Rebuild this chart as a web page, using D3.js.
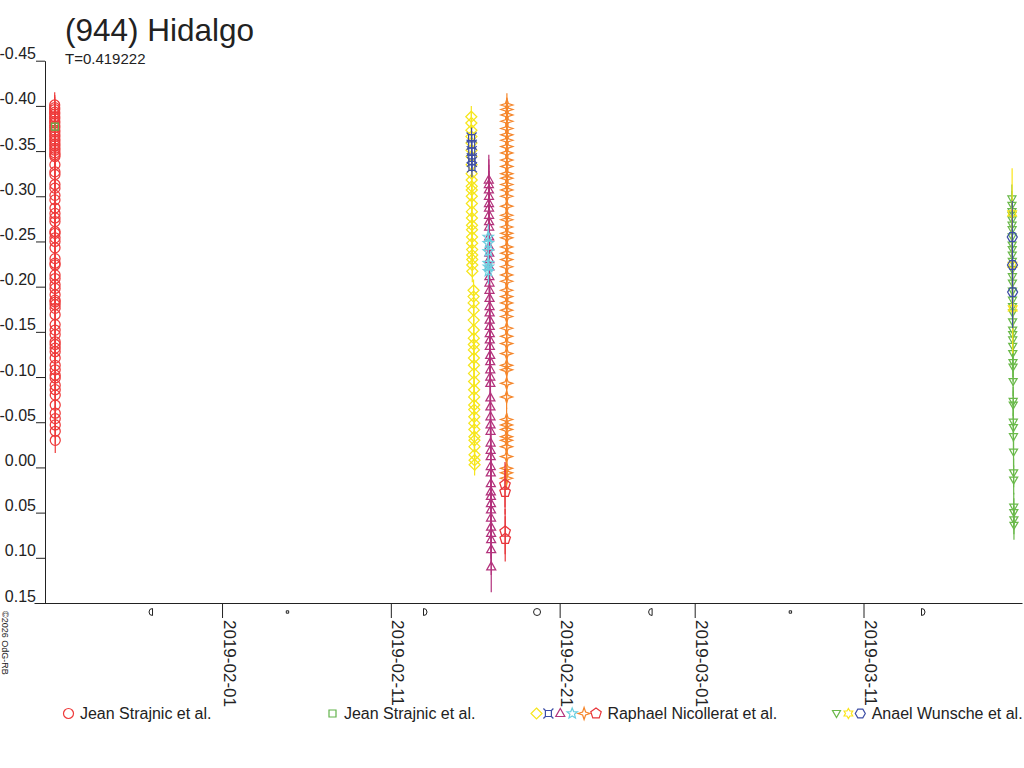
<!DOCTYPE html>
<html>
<head>
<meta charset="utf-8">
<script src="https://cdn.jsdelivr.net/npm/d3@7"></script>
<style>
body { margin: 0; background: #fff; }
text { font-family: "Liberation Sans", Arial, sans-serif; fill: #222; }
</style>
</head>
<body>
<div id="chart"></div>
<script>

const width = 1024, height = 768;

const title = "(944) Hidalgo";
const subtitle = "T=0.419222";
const credit = "©2026 OdG-RB";

const yTicks = [-0.45, -0.40, -0.35, -0.30, -0.25, -0.20, -0.15, -0.10, -0.05, 0.00, 0.05, 0.10, 0.15];
const xTicks = ["2019-02-01", "2019-02-11", "2019-02-21", "2019-03-01", "2019-03-11"];

// moon phases (UTC)
const moonPhases = [
    ["2019-01-27T21:10", "last"], ["2019-02-04T21:03", "new"], ["2019-02-12T22:26", "first"],
    ["2019-02-19T15:53", "full"], ["2019-02-26T11:27", "last"], ["2019-03-06T16:03", "new"],
    ["2019-03-14T10:27", "first"]
];

const observers = ["Jean Strajnic et al.", "Jean Strajnic et al.", "Raphael Nicollerat et al.", "Anael Wunsche et al."];

// observations: [hours UT, relative magnitude]
const strajnicA = [ // 2019-01-22
    [2.10,-0.401],[2.11,-0.398],[2.12,-0.396],[2.14,-0.393],[2.15,-0.391],[2.16,-0.388],[2.18,-0.386],[2.19,-0.383],
    [2.20,-0.381],[2.22,-0.378],[2.23,-0.376],[2.24,-0.373],[2.26,-0.371],[2.27,-0.368],[2.28,-0.366],[2.30,-0.363],
    [2.31,-0.361],[2.32,-0.358],[2.34,-0.356],[2.35,-0.353],[2.36,-0.351],[2.38,-0.348],[2.39,-0.346],
    [2.40,-0.344],[2.41,-0.335],[2.42,-0.327],[2.43,-0.324],[2.44,-0.313],[2.45,-0.309],[2.46,-0.301],[2.47,-0.296],
    [2.48,-0.287],[2.49,-0.281],[2.50,-0.276],[2.51,-0.272],[2.52,-0.261],[2.53,-0.259],[2.54,-0.254],[2.55,-0.250],
    [2.56,-0.243],[2.57,-0.231],[2.58,-0.226],[2.59,-0.224],[2.60,-0.213],[2.61,-0.209],[2.62,-0.202],[2.63,-0.198],
    [2.64,-0.191],[2.65,-0.185],[2.66,-0.183],[2.67,-0.180],[2.68,-0.176],[2.69,-0.169],[2.70,-0.158],[2.71,-0.152],
    [2.72,-0.147],[2.73,-0.139],[2.74,-0.136],[2.75,-0.132],[2.76,-0.128],[2.77,-0.121],[2.78,-0.113],[2.79,-0.108],
    [2.80,-0.102],[2.81,-0.099],[2.82,-0.091],[2.83,-0.086],[2.84,-0.080],[2.85,-0.069],[2.86,-0.060],[2.87,-0.054],
    [2.88,-0.047],[2.89,-0.040],[2.90,-0.030]
];
const strajnicB = [[2.50,-0.377]]; // 2019-01-22

const nicolleratDiamond = [ // 2019-02-15
    [18.40,-0.388],[18.46,-0.381],[18.52,-0.373],[18.58,-0.366],[18.64,-0.359],[18.70,-0.351],[18.76,-0.344],
    [18.82,-0.335],[18.88,-0.325],[18.94,-0.318],[19.00,-0.311],[19.06,-0.307],[19.12,-0.300],[19.18,-0.292],
    [19.24,-0.283],[19.30,-0.276],[19.36,-0.268],[19.42,-0.263],[19.48,-0.255],[19.54,-0.248],[19.60,-0.241],
    [19.66,-0.235],[19.72,-0.230],[19.78,-0.224],[19.84,-0.217],
    [21.60,-0.196],[21.66,-0.189],[21.72,-0.182],[21.78,-0.174],[21.84,-0.163],[21.90,-0.152],[21.96,-0.143],
    [22.02,-0.136],[22.08,-0.130],[22.14,-0.121],[22.20,-0.113],[22.26,-0.104],[22.32,-0.095],[22.38,-0.086],
    [22.44,-0.078],[22.50,-0.069],[22.56,-0.064],[22.62,-0.056],[22.68,-0.049],[22.74,-0.042],[22.80,-0.034],
    [22.86,-0.030],[22.92,-0.023],[22.98,-0.014],[23.04,-0.008],[23.10,-0.003]
];
const nicolleratCorner = [ // 2019-02-15
    [18.8,-0.365],[18.9,-0.357],[19.0,-0.350],[19.1,-0.342],[19.2,-0.338],[19.3,-0.332]
];
const nicolleratTriangle = [ // 2019-02-16
    [19.30,-0.318],[19.36,-0.313],[19.42,-0.307],[19.48,-0.300],[19.54,-0.292],[19.60,-0.287],[19.66,-0.279],
    [19.72,-0.272],[19.78,-0.266],[19.84,-0.255],[19.90,-0.244],[19.96,-0.237],[20.02,-0.230],[20.08,-0.222],
    [20.14,-0.211],[20.20,-0.204],[20.26,-0.196],[20.32,-0.187],[20.38,-0.178],[20.44,-0.171],[20.50,-0.163],
    [20.56,-0.156],[20.62,-0.148],[20.68,-0.141],[20.74,-0.134],
    [21.25,-0.124],[21.31,-0.117],[21.37,-0.108],[21.43,-0.100],[21.49,-0.093],[21.55,-0.077],[21.61,-0.067],
    [21.67,-0.056],[21.73,-0.047],[21.79,-0.040],[21.85,-0.027],[21.91,-0.019],[21.97,-0.012],[22.03,-0.001],
    [22.09,0.006],[22.15,0.018],[22.21,0.027],[22.27,0.032],[22.33,0.040],[22.39,0.047],[22.45,0.056],
    [22.51,0.066],[22.57,0.073],[22.63,0.080],[22.69,0.091],[22.75,0.110]
];
const nicolleratStar = [ // 2019-02-16
    [18.50,-0.255],[18.55,-0.248],[18.60,-0.239],[18.65,-0.226],[18.70,-0.222],[18.75,-0.217]
];
const nicolleratSparkle = [ // 2019-02-17
    [21.00,-0.401],[20.99,-0.396],[20.98,-0.390],[20.97,-0.383],[20.96,-0.375],[20.95,-0.368],[20.94,-0.362],
    [20.93,-0.355],[20.92,-0.348],[20.91,-0.340],[20.90,-0.333],[20.89,-0.325],[20.88,-0.320],[20.87,-0.313],
    [20.86,-0.307],[20.85,-0.300],[20.84,-0.289],[20.83,-0.279],[20.82,-0.274],[20.81,-0.266],[20.80,-0.259],
    [20.79,-0.254],[20.78,-0.244],[20.77,-0.237],[20.76,-0.230],[20.75,-0.222],[20.74,-0.213],[20.73,-0.206],
    [20.72,-0.196],[20.71,-0.189],[20.70,-0.182],[20.69,-0.174],[20.68,-0.167],[20.67,-0.154],[20.66,-0.145],
    [20.65,-0.137],[20.64,-0.126],[20.63,-0.113],[20.62,-0.108],[20.61,-0.093],[20.60,-0.078],[20.59,-0.053],
    [20.58,-0.047],[20.57,-0.042],[20.56,-0.034],[20.55,-0.030],[20.54,-0.023],[20.53,-0.012],[20.52,0.001],
    [20.51,0.006],[20.50,0.012]
];
const nicolleratPentagon = [ // 2019-02-17
    [18.30,0.019],[18.40,0.027],[18.50,0.071],[18.60,0.079]
];
const wunscheTriangle = [ // 2019-03-19
    [19.00,-0.297],[19.05,-0.290],[19.10,-0.283],[19.15,-0.279],[19.20,-0.274],[19.25,-0.268],[19.30,-0.263],
    [19.35,-0.255],[19.40,-0.246],[19.45,-0.241],[19.50,-0.235],[19.55,-0.228],[19.60,-0.219],[19.65,-0.211],
    [19.70,-0.204],[19.75,-0.195],[19.80,-0.185],[19.85,-0.178],[19.90,-0.171],[19.95,-0.161],[20.00,-0.152],
    [20.05,-0.147],[20.10,-0.141],[20.15,-0.134],[20.20,-0.126],
    [20.5,-0.116],[20.6,-0.111],[20.7,-0.095],[20.8,-0.073],[20.9,-0.069],[21.0,-0.050],[21.1,-0.044],
    [21.2,-0.034],[21.3,-0.017],[21.4,0.006],[21.5,0.014],[21.6,0.044],[21.7,0.050],[21.8,0.058],[21.9,0.064]
];
const wunscheStar = [[19.3,-0.281],[19.7,-0.224],[20.1,-0.176]]; // 2019-03-19
const wunscheHexagon = [[19.5,-0.255],[19.8,-0.224],[20.0,-0.194]]; // 2019-03-19

const series = [
    {observer: 0, night: "2019-01-22", shape: "circle",       color: "#ee3a3a", err: 0.014, points: strajnicA},
    {observer: 1, night: "2019-01-22", shape: "square",       color: "#62b34b", err: 0.004, points: strajnicB},
    {observer: 2, night: "2019-02-15", shape: "diamond",      color: "#f6e61c", err: 0.012, points: nicolleratDiamond},
    {observer: 2, night: "2019-02-15", shape: "cornered",     color: "#3d4ea6", err: 0.011, points: nicolleratCorner},
    {observer: 2, night: "2019-02-16", shape: "triangle",     color: "#b3327c", err: 0.028, points: nicolleratTriangle},
    {observer: 2, night: "2019-02-16", shape: "star5",        color: "#6ccfe0", err: 0.014, points: nicolleratStar},
    {observer: 2, night: "2019-02-17", shape: "sparkle",      color: "#f5862b", err: 0.013, points: nicolleratSparkle},
    {observer: 2, night: "2019-02-17", shape: "pentagon",     color: "#e8363b", err: 0.025, points: nicolleratPentagon},
    {observer: 3, night: "2019-03-19", shape: "triangleDown", color: "#6ab94a", err: 0.016, points: wunscheTriangle},
    {observer: 3, night: "2019-03-19", shape: "star6",        color: "#fbe51a", err: 0.050, points: wunscheStar},
    {observer: 3, night: "2019-03-19", shape: "hexagon",      color: "#3d4ea6", err: 0.040, points: wunscheHexagon}
];

// marker outlines
function poly(n, r, a0) {
    let p = [];
    for (let i = 0; i < n; i++) {
        let a = a0 + i * 2 * Math.PI / n;
        p.push([(r * Math.sin(a)).toFixed(2), (-r * Math.cos(a)).toFixed(2)]);
    }
    return "M" + p.join("L") + "Z";
}
function star(n, ro, ri) {
    let p = [];
    for (let i = 0; i < 2 * n; i++) {
        let a = i * Math.PI / n, r = i % 2 ? ri : ro;
        p.push([(r * Math.sin(a)).toFixed(2), (-r * Math.cos(a)).toFixed(2)]);
    }
    return "M" + p.join("L") + "Z";
}
const shapes = {
    circle: "M5,0A5,5 0 1,1 -5,0A5,5 0 1,1 5,0Z",
    square: "M-3.5,-3.5H3.5V3.5H-3.5Z",
    diamond: "M0,-5.5L5.5,0L0,5.5L-5.5,0Z",
    cornered: "M-3,-3H3V3H-3Z M-3,-3L-5,-5 M3,-3L5,-5 M3,3L5,5 M-3,3L-5,5",
    triangle: "M0,-5L4.5,3L-4.5,3Z",
    star5: star(5, 5.5, 2.4),
    sparkle: "M0,-6L1.5,-1.5L6,0L1.5,1.5L0,6L-1.5,1.5L-6,0L-1.5,-1.5Z",
    pentagon: poly(5, 5.5, 0),
    triangleDown: "M-4,-3L4,-3L0,4Z",
    star6: star(6, 5, 2.9),
    hexagon: poly(6, 5, Math.PI / 6)
};
const moonShapes = {
    last: "M0,-3.5A3.5,3.5 0 0,0 0,3.5Z",
    first: "M0,-3.5A3.5,3.5 0 0,1 0,3.5Z",
    full: "M3.5,0A3.5,3.5 0 1,1 -3.5,0A3.5,3.5 0 1,1 3.5,0Z",
    "new": "M-1.2,-1.2H1.2V1.2H-1.2Z"
};

const parseDay = d3.utcParse("%Y-%m-%d");
const parseTime = d3.utcParse("%Y-%m-%dT%H:%M");

const svg = d3.select("#chart").append("svg")
    .attr("width", width)
    .attr("height", height);

const x = d3.scaleUtc()
    .domain([Date.UTC(2019, 0, 20, 20, 40), Date.UTC(2019, 2, 20, 9, 20)])
    .range([34, 1022]);

const y = d3.scaleLinear().domain([-0.45, 0.15]).range([60.7, 603]);

// title
svg.append("text").attr("x", 65).attr("y", 41)
    .style("font-size", "31.5px").text(title);
svg.append("text").attr("x", 65).attr("y", 64)
    .style("font-size", "15px").text(subtitle);

// axes
const yAxis = svg.append("g")
    .attr("transform", "translate(45,0)")
    .call(d3.axisLeft(y).tickValues(yTicks).tickFormat(d => d.toFixed(2))
        .tickSize(9).tickSizeOuter(0).tickPadding(0));
yAxis.selectAll("text")
    .attr("x", -9).attr("dy", -2)
    .style("font-size", "16px").style("fill", "#222");

const xAxis = svg.append("g")
    .attr("transform", "translate(0,603)")
    .call(d3.axisBottom(x).tickValues(xTicks.map(parseDay)).tickFormat(d3.utcFormat("%Y-%m-%d"))
        .tickSize(15).tickSizeOuter(0));
xAxis.selectAll("text")
    .attr("transform", "rotate(90)")
    .attr("x", 17).attr("y", -1).attr("dy", 0)
    .style("text-anchor", "start")
    .style("font-size", "17px").style("fill", "#222");

svg.selectAll(".domain, .tick line").attr("stroke", "#222");
svg.selectAll("g text").attr("font-family", null);

// moon phases under the time axis
svg.append("g").selectAll("path")
    .data(moonPhases)
    .join("path")
    .attr("transform", d => `translate(${x(parseTime(d[0]))},612)`)
    .attr("d", d => moonShapes[d[1]])
    .attr("fill", "none")
    .attr("stroke", "#222");

// credit
svg.append("text")
    .attr("transform", "translate(2,611) rotate(90)")
    .style("font-size", "9px")
    .text(credit);

// data
const timeOf = (s, p) => new Date(parseDay(s.night).getTime() + p[0] * 3600e3);

series.forEach(s => {
    const g = svg.append("g");
    g.selectAll("line")
        .data(s.points)
        .join("line")
        .attr("x1", p => x(timeOf(s, p)))
        .attr("x2", p => x(timeOf(s, p)))
        .attr("y1", p => y(p[1] - s.err))
        .attr("y2", p => y(p[1] + s.err))
        .attr("stroke", s.color)
        .attr("stroke-width", 1.2);
    g.selectAll("path")
        .data(s.points)
        .join("path")
        .attr("transform", p => `translate(${x(timeOf(s, p))},${y(p[1])})`)
        .attr("d", shapes[s.shape])
        .attr("fill", "none")
        .attr("stroke", s.color)
        .attr("stroke-width", 1.25);
});

// legend
const legendX = [63, 327, 531, 831];
const legend = svg.append("g").attr("transform", "translate(0,713.5)");
observers.forEach((name, i) => {
    const items = series.filter(s => s.observer === i);
    const g = legend.append("g").attr("transform", `translate(${legendX[i]},0)`);
    g.selectAll("path")
        .data(items)
        .join("path")
        .attr("transform", (s, j) => `translate(${5.5 + j * 11.9},0)`)
        .attr("d", s => shapes[s.shape])
        .attr("fill", "none")
        .attr("stroke", s => s.color)
        .attr("stroke-width", 1.2);
    g.append("text")
        .attr("x", items.length * 11.9 + 5)
        .attr("y", 5.5)
        .style("font-size", "16px")
        .text(name);
});

</script>
</body>
</html>
